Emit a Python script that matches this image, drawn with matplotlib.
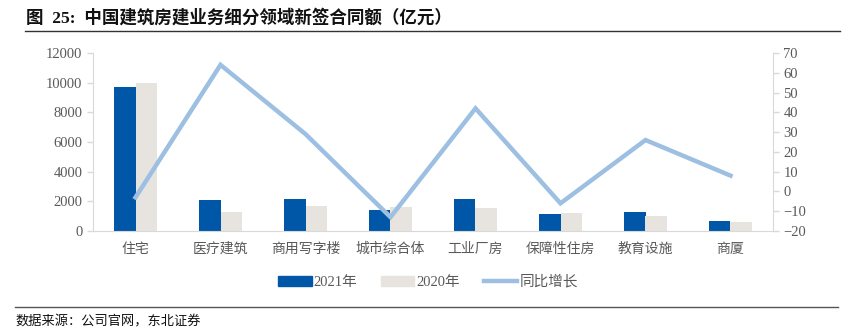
import numpy as np
import matplotlib
matplotlib.use("Agg")
import matplotlib.pyplot as plt
from matplotlib.lines import Line2D
from matplotlib.patches import Patch

plt.rcParams['font.family'] = ['Noto Sans CJK SC', 'DejaVu Sans']

categories = ["住宅", "医疗建筑", "商用写字楼", "城市综合体", "工业厂房", "保障性住房", "教育设施", "商厦"]
v2021 = [9700, 2080, 2150, 1420, 2150, 1150, 1280, 670]
v2020 = [9950, 1280, 1690, 1620, 1550, 1210, 1010, 600]
yoy = [-3, 64, 29, -13, 42, -6, 26, 8]

c21 = "#0057A8"
c20 = "#E7E4DF"
cline = "#9DC0E2"
grey = "#595959"
spine_c = "#D9D9D9"
mixed = ['Liberation Serif', 'Noto Sans CJK SC']

fig = plt.figure(figsize=(8.51, 3.35), dpi=100)
ax = fig.add_axes([93/851, 1-231/335, 680/851, 178/335])
ax2 = ax.twinx()

x = np.arange(len(categories))
w = 0.25
ax.bar(x - w/2, v2021, w, color=c21, zorder=2)
ax.bar(x + w/2, v2020, w, color=c20, zorder=2)
ax2.plot(x, yoy, color=cline, lw=3.2, solid_joinstyle='miter')

ax.set_xlim(-0.5, len(categories) - 0.5)
ax.set_ylim(0, 12000)
ax.set_yticks(np.arange(0, 12001, 2000))
ax2.set_ylim(-20, 70)
ax2.set_yticks(np.arange(-20, 71, 10))

ax.set_xticks(x)
ax.set_xticklabels(categories, fontsize=10, color=grey)
ax.tick_params(axis='x', length=0, pad=8)
for a in (ax, ax2):
    a.tick_params(axis='y', colors=spine_c, labelcolor=grey, labelsize=10.5, length=4, width=1)
    for lbl in a.get_yticklabels():
        lbl.set_family('Liberation Serif')
    for s in a.spines.values():
        s.set_visible(False)
ax.spines['left'].set_visible(True)
ax.spines['bottom'].set_visible(True)
ax2.spines['right'].set_visible(True)
ax.spines['left'].set_color(spine_c)
ax.spines['bottom'].set_color(spine_c)
ax2.spines['right'].set_color(spine_c)

# title and rules
fig.text(26/851, 1-18/335, "图  25:  中国建筑房建业务细分领域新签合同额（亿元）",
         fontsize=12.6, fontweight='bold', va='center', ha='left', color='#111111', family=mixed)
fig.add_artist(Line2D([25/851, 840/851], [1-31/335, 1-31/335], color='#333333', lw=1))
fig.add_artist(Line2D([15/851, 838/851], [1-307/335, 1-307/335], color='#555555', lw=1))
fig.text(15/851, 1-322/335, "数据来源：公司官网，东北证券", fontsize=9.5, va='center', ha='left', color='#111111')

handles = [Patch(color=c21), Patch(color=c20), Line2D([0], [0], color=cline, lw=3.2)]
leg = fig.legend(handles, ["2021年", "2020年", "同比增长"], loc='center', bbox_to_anchor=(428/851, 1-282/335),
                 ncol=3, frameon=False, fontsize=10.5, handlelength=2.3, handleheight=0.7,
                 columnspacing=1.6, handletextpad=0.15, labelcolor=grey)
for t in leg.get_texts():
    t.set_family(mixed)

fig.savefig("out.png", dpi=100)
